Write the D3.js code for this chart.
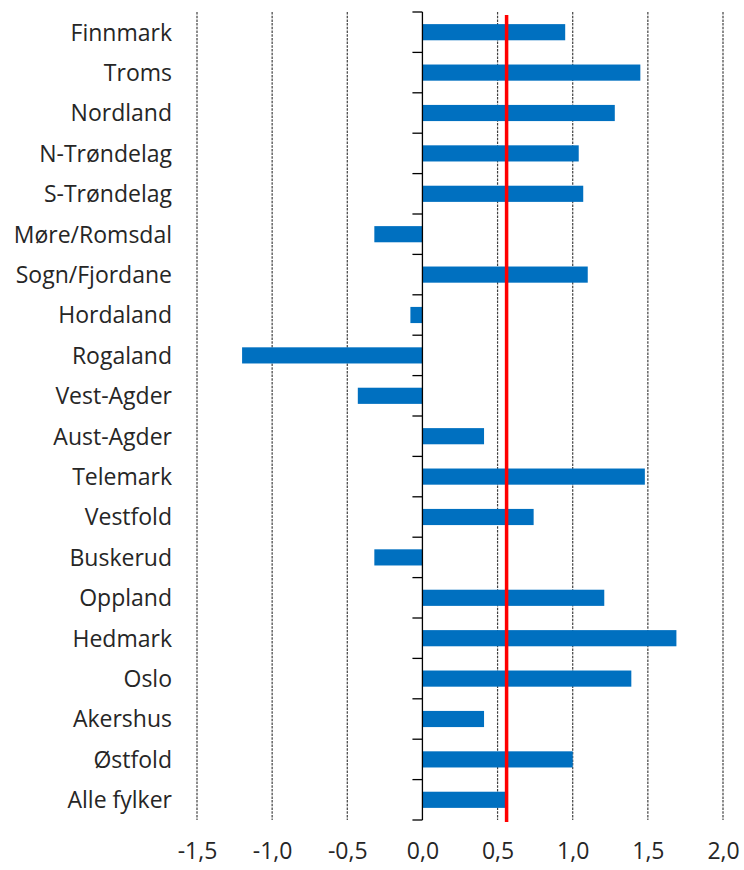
<!DOCTYPE html>
<html>
<head>
<meta charset="utf-8">
<script src="https://cdn.jsdelivr.net/npm/d3@7/dist/d3.min.js"></script>
<style>
  html, body { margin: 0; padding: 0; background: #fff; }
  svg { display: block; }
</style>
</head>
<body>
<svg id="chart" width="744" height="870"></svg>
<script>
const categories = ["Finnmark","Troms","Nordland","N-Trøndelag","S-Trøndelag","Møre/Romsdal","Sogn/Fjordane","Hordaland","Rogaland","Vest-Agder","Aust-Agder","Telemark","Vestfold","Buskerud","Oppland","Hedmark","Oslo","Akershus","Østfold","Alle fylker"];
const values = [0.95, 1.45, 1.28, 1.04, 1.07, -0.32, 1.10, -0.08, -1.20, -0.43, 0.41, 1.48, 0.74, -0.32, 1.21, 1.69, 1.39, 0.41, 1.00, 0.55];
const referenceValue = 0.56;
const xTicks = [-1.5, -1.0, -0.5, 0.0, 0.5, 1.0, 1.5, 2.0];

const svg = d3.select("#chart");
const plotTop = 12, plotBottom = 820;

const x = d3.scaleLinear().domain([-1.5, 2.0]).range([197, 723]);
const y = d3.scaleBand().domain(categories).range([plotTop, plotBottom]).paddingInner(0.6).paddingOuter(0.3);

const fontFamily = "'Open Sans', Lato, 'Liberation Sans', sans-serif";
const textColor = "#262626";

// gridlines
svg.append("g").selectAll("line").data(xTicks.filter(d => d !== 0)).join("line")
  .attr("x1", d => x(d)).attr("x2", d => x(d))
  .attr("y1", plotTop).attr("y2", plotBottom)
  .attr("stroke", "#404040").attr("stroke-width", 1.2).attr("stroke-dasharray", "2.5,1.2");

// bars
svg.append("g").selectAll("rect").data(categories).join("rect")
  .attr("x", (d, i) => Math.min(x(0), x(values[i])))
  .attr("width", (d, i) => Math.abs(x(values[i]) - x(0)))
  .attr("y", d => y(d))
  .attr("height", y.bandwidth())
  .attr("fill", "#0070C0");

// category axis (line + boundary ticks)
const axisG = svg.append("g");
axisG.append("line")
  .attr("x1", x(0)).attr("x2", x(0))
  .attr("y1", plotTop).attr("y2", plotBottom)
  .attr("stroke", "#000").attr("stroke-width", 1.3);
const boundaries = d3.range(categories.length + 1).map(i => plotTop + i * y.step());
axisG.selectAll("line.tick").data(boundaries).join("line")
  .attr("class", "tick")
  .attr("x1", x(0) - 10).attr("x2", x(0))
  .attr("y1", d => d).attr("y2", d => d)
  .attr("stroke", "#000").attr("stroke-width", 1.3);

// category labels
const yAxis = d3.axisLeft(y).tickSize(0).tickPadding(0);
const yg = svg.append("g").attr("transform", "translate(172,1)").call(yAxis);
yg.select(".domain").remove();
yg.selectAll("text").attr("font-family", fontFamily).attr("font-size", 23).attr("fill", textColor);

// reference line
svg.append("line")
  .attr("x1", x(referenceValue)).attr("x2", x(referenceValue))
  .attr("y1", 15).attr("y2", plotBottom + 2)
  .attr("stroke", "#FF0000").attr("stroke-width", 3.5);

// x axis labels
const xAxis = d3.axisBottom(x).tickValues(xTicks).tickSize(0).tickPadding(0)
  .tickFormat(d => d3.format(".1f")(d).replace(".", ",").replace("−", "-"));
const xg = svg.append("g").attr("transform", "translate(0,843)").call(xAxis);
xg.select(".domain").remove();
xg.selectAll("text").attr("font-family", fontFamily).attr("font-size", 23).attr("fill", textColor);
</script>
</body>
</html>
